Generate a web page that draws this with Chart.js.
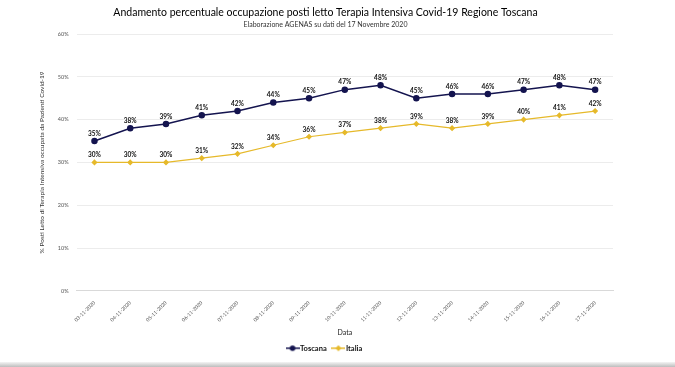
<!DOCTYPE html>
<html lang="it">
<head>
  <meta charset="UTF-8">
  <title>Terapia Intensiva Toscana</title>
  <script src="https://cdn.jsdelivr.net/npm/chart.js@4.4.1/dist/chart.umd.min.js"></script>
  <style>
    html, body { margin: 0; padding: 0; background: #fff; }
    .box { width: 675px; height: 367px; position: relative; overflow: hidden; }
    canvas { display: block; }
    .bordo { position: absolute; left: 0; right: 0; bottom: 0; height: 5px;
      background: linear-gradient(#f4f4f4, #bdbdbd); }
  </style>
</head>
<body>
  <div class="box">
    <canvas id="grafico" width="675" height="367"></canvas>
    <div class="bordo"></div>
  </div>
  <script>
    const date = [
      "03-11-2020", "04-11-2020", "05-11-2020", "06-11-2020", "07-11-2020",
      "08-11-2020", "09-11-2020", "10-11-2020", "11-11-2020", "12-11-2020",
      "13-11-2020", "14-11-2020", "15-11-2020", "16-11-2020", "17-11-2020"
    ];
    const toscana = [35, 38, 39, 41, 42, 44, 45, 47, 48, 45, 46, 46, 47, 48, 47];
    const italia = [30, 30, 30, 31, 32, 34, 36, 37, 38, 39, 38, 39, 40, 41, 42];

    const BLU = "#14144f";
    const ORO = "#e6b92a";
    const FONT = "Lato, 'Open Sans', sans-serif";

    // icona legenda: linea + marker
    function iconaLegenda(colore, stile) {
      const c = document.createElement("canvas");
      c.width = 14; c.height = 8;
      const ctx = c.getContext("2d");
      ctx.strokeStyle = colore;
      ctx.fillStyle = colore;
      ctx.lineWidth = 1.5;
      ctx.beginPath(); ctx.moveTo(0, 4); ctx.lineTo(14, 4); ctx.stroke();
      ctx.beginPath();
      if (stile === "circle") {
        ctx.arc(7, 4, 2.8, 0, Math.PI * 2);
      } else {
        ctx.moveTo(7, 1); ctx.lineTo(10, 4); ctx.lineTo(7, 7); ctx.lineTo(4, 4); ctx.closePath();
      }
      ctx.fill();
      return c;
    }

    // etichette sopra i punti
    const etichette = {
      id: "etichette",
      afterDatasetsDraw(chart) {
        const ctx = chart.ctx;
        ctx.save();
        ctx.font = "bold 6.5px " + FONT;
        ctx.fillStyle = "#111";
        ctx.textAlign = "center";
        ctx.textBaseline = "bottom";
        chart.data.datasets.forEach((ds, i) => {
          chart.getDatasetMeta(i).data.forEach((pt, j) => {
            ctx.fillText(ds.data[j] + "%", pt.x, pt.y - 4);
          });
        });
        ctx.restore();
      }
    };

    new Chart(document.getElementById("grafico"), {
      type: "line",
      data: {
        labels: date,
        datasets: [
          { label: "Toscana", data: toscana, borderColor: BLU, backgroundColor: BLU,
            borderWidth: 1.5, pointRadius: 2.5, pointStyle: "circle", tension: 0 },
          { label: "Italia", data: italia, borderColor: ORO, backgroundColor: ORO,
            borderWidth: 1.2, pointRadius: 2.2, pointStyle: "rectRot", tension: 0 }
        ]
      },
      options: {
        responsive: false,
        animation: false,
        layout: { padding: { left: 38, right: 62, top: 0, bottom: 5 } },
        plugins: {
          title: {
            display: true,
            text: "Andamento percentuale occupazione posti letto Terapia Intensiva Covid-19 Regione Toscana",
            color: "#000",
            font: { family: FONT, size: 10.5, weight: "normal" },
            padding: { top: 6, bottom: 1 }
          },
          subtitle: {
            display: true,
            text: "Elaborazione AGENAS su dati del 17 Novembre 2020",
            color: "#333",
            font: { family: FONT, size: 7 },
            padding: { top: 1, bottom: 5 }
          },
          legend: {
            position: "bottom",
            labels: {
              usePointStyle: true,
              color: "#111",
              font: { family: FONT, size: 7.5, weight: "bold" },
              boxHeight: 8,
              padding: 8,
              generateLabels(chart) {
                return chart.data.datasets.map((ds, i) => ({
                  text: ds.label,
                  pointStyle: iconaLegenda(ds.borderColor, ds.pointStyle),
                  fillStyle: ds.borderColor,
                  strokeStyle: ds.borderColor,
                  lineWidth: 0,
                  fontColor: "#111",
                  hidden: false,
                  datasetIndex: i
                }));
              }
            }
          },
          tooltip: { enabled: false }
        },
        scales: {
          x: {
            offset: true,
            grid: { display: false },
            border: { display: true, color: "#d9d9d9" },
            ticks: {
              maxRotation: 45, minRotation: 45, autoSkip: false,
              color: "#555", font: { family: FONT, size: 5 }, padding: 1
            },
            title: {
              display: true, text: "Data", color: "#222",
              font: { family: FONT, size: 7 }, padding: { top: 4, bottom: 0 }
            }
          },
          y: {
            min: 0, max: 60,
            border: { display: false },
            grid: { color: "#ececec", drawTicks: false },
            ticks: {
              stepSize: 10, color: "#555", padding: 8,
              font: { family: FONT, size: 5.5 },
              callback: v => v + "%"
            },
            title: {
              display: true,
              text: "% Posti Letto di Terapia Intensiva occupata da Pazienti Covid-19",
              color: "#333",
              font: { family: FONT, size: 6.5 },
              padding: { top: 0, bottom: 4 }
            }
          }
        }
      },
      plugins: [etichette]
    });
  </script>
</body>
</html>
